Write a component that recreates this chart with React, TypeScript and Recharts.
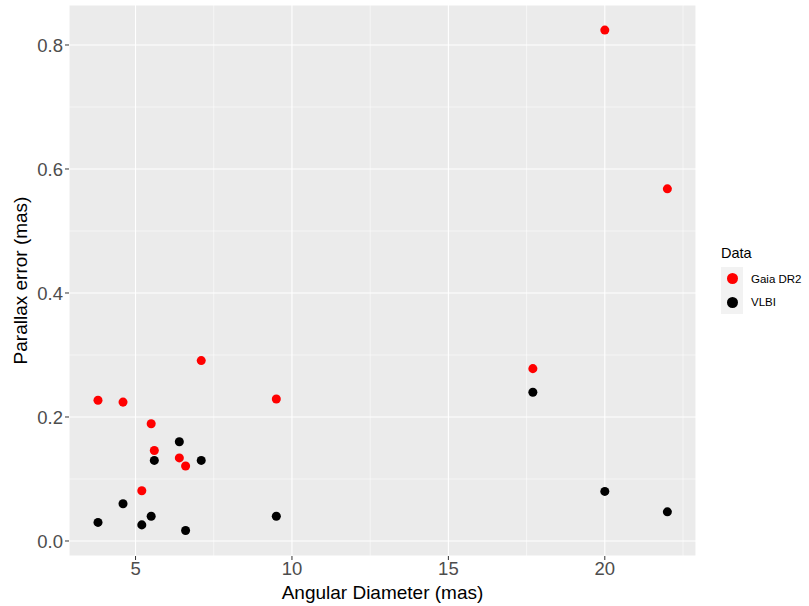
import { ScatterChart, Scatter, XAxis, YAxis, ZAxis, CartesianGrid, ReferenceLine } from 'recharts';

const diameters = [3.8, 4.6, 5.2, 5.5, 5.6, 6.4, 6.6, 7.1, 9.5, 17.7, 20, 22];
const gaiaErrors = [0.227, 0.224, 0.081, 0.189, 0.146, 0.134, 0.121, 0.291, 0.229, 0.278, 0.824, 0.568];
const vlbiErrors = [0.030, 0.060, 0.026, 0.040, 0.130, 0.160, 0.017, 0.130, 0.040, 0.240, 0.080, 0.047];

const xTicks = [5, 10, 15, 20];
const yTicks = [0, 0.2, 0.4, 0.6, 0.8];
const xMinor = [7.5, 12.5, 17.5, 22.5];
const yMinor = [0.1, 0.3, 0.5, 0.7];

const seriesNames = ['Gaia DR2', 'VLBI'];
const seriesColors = ['#FF0000', '#000000'];

const gaia = diameters.map((x, i) => ({ x, y: gaiaErrors[i] }));
const vlbi = diameters.map((x, i) => ({ x, y: vlbiErrors[i] }));

const font = '"Liberation Sans", Arial, sans-serif';

// legend drawn as plain html next to the panel, like ggplot's guide box
function LegendBox() {
  return (
    <div style={{ position: 'absolute', left: 721, top: 242, fontFamily: font, color: '#000' }}>
      <div style={{ fontSize: 14.5, height: 25, lineHeight: '22px' }}>Data</div>
      {seriesNames.map((name, i) => (
        <div key={name} style={{ display: 'flex', alignItems: 'center', height: 23.5 }}>
          <div style={{ width: 22, height: 23.5, background: '#F2F2F2', display: 'flex', alignItems: 'center', justifyContent: 'center' }}>
            <div style={{ width: 11, height: 11, borderRadius: '50%', background: seriesColors[i] }} />
          </div>
          <span style={{ fontSize: 11.5, marginLeft: 8 }}>{name}</span>
        </div>
      ))}
    </div>
  );
}

export default function App() {
  return (
    <div style={{ position: 'absolute', left: 0, top: 0, width: 809, height: 606, background: '#fff' }}>
      <ScatterChart width={809} height={606} margin={{ top: 5, right: 113, bottom: 0, left: 0 }} style={{ fontFamily: font }}>
        <CartesianGrid fill="#EBEBEB" stroke="#FFFFFF" strokeWidth={1.1} />
        {xMinor.map((v) => (
          <ReferenceLine key={'x' + v} x={v} stroke="#FFFFFF" strokeWidth={0.55} />
        ))}
        {yMinor.map((v) => (
          <ReferenceLine key={'y' + v} y={v} stroke="#FFFFFF" strokeWidth={0.55} />
        ))}
        <XAxis
          type="number"
          dataKey="x"
          domain={[2.873, 22.915]}
          ticks={xTicks}
          allowDataOverflow
          height={50}
          tickSize={4}
          tickMargin={2}
          axisLine={false}
          tickLine={{ stroke: '#333333' }}
          tick={{ fill: '#4D4D4D', fontSize: 18.5 }}
          label={{ value: 'Angular Diameter (mas)', position: 'center', dy: 11, fill: '#000', fontSize: 19 }}
        />
        <YAxis
          type="number"
          dataKey="y"
          domain={[-0.0242, 0.8645]}
          ticks={yTicks}
          allowDataOverflow
          width={69}
          tickSize={4}
          tickMargin={2}
          axisLine={false}
          tickLine={{ stroke: '#333333' }}
          tick={{ fill: '#4D4D4D', fontSize: 18.5 }}
          tickFormatter={(v: number) => v.toFixed(1)}
          label={{ value: 'Parallax error (mas)', angle: -90, position: 'center', dx: -14.5, fill: '#000', fontSize: 19 }}
        />
        <ZAxis range={[95, 95]} />
        <Scatter name={seriesNames[0]} data={gaia} fill={seriesColors[0]} isAnimationActive={false} />
        <Scatter name={seriesNames[1]} data={vlbi} fill={seriesColors[1]} isAnimationActive={false} />
      </ScatterChart>
      <LegendBox />
    </div>
  );
}
